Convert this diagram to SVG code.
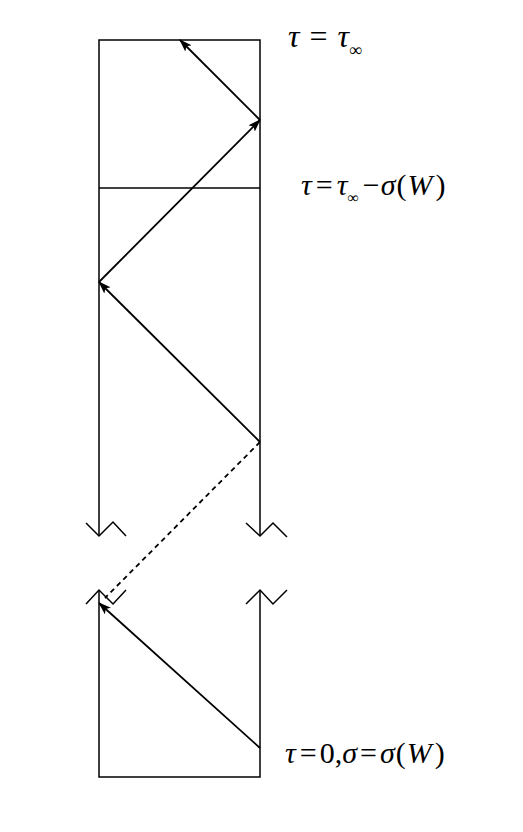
<svg xmlns="http://www.w3.org/2000/svg" width="523" height="832" viewBox="0 0 523 832">
<defs>
<marker id="ah" viewBox="0 0 13 9" refX="12" refY="4.5" markerWidth="13" markerHeight="9" markerUnits="userSpaceOnUse" orient="auto">
<path d="M0,0 L13,4.5 L0,9 L3,4.5 Z" fill="#000"/>
</marker>
<style>
.ln{stroke:#000;stroke-width:1.5;fill:none}
.ar{stroke:#000;stroke-width:1.8;fill:none;marker-end:url(#ah)}
.ds{stroke:#000;stroke-width:1.8;fill:none;stroke-dasharray:5,4}
.t{font-family:"Liberation Serif","Times New Roman",serif;font-size:30px;fill:#000}
.tt{font-size:32px}
.i{font-style:italic}
.sb{font-size:16px}
.sbt{font-size:18px}
</style>
</defs>
<rect width="523" height="832" fill="#fff"/>
<g id="frame">
<path class="ln" d="M99,536 L99,40 L260,40 L260,536"/>
<path class="ln" d="M99,188 L260,188"/>
<path class="ln" d="M86,523 L99,536 L113,522 L126,536"/>
<path class="ln" d="M246,523 L260,536 L273,523 L287,537"/>
<path class="ln" d="M86,604 L99,590 L113,604 L126,590"/>
<path class="ln" d="M246,604 L260,590 L273,604 L287,590"/>
<path class="ln" d="M99,590 L99,777 L260,777 L260,590"/>
</g>
<g id="connectors">
<line class="ar" x1="260" y1="748" x2="99" y2="603"/>
<line class="ds" x1="260" y1="442" x2="105" y2="598"/>
<line class="ar" x1="260" y1="442" x2="99" y2="282"/>
<line class="ar" x1="99" y1="282" x2="260" y2="120"/>
<line class="ar" x1="260" y1="120" x2="180" y2="40"/>
</g>
<g id="label-top">
<text class="t tt" x="288" y="47"><tspan class="i">τ</tspan><tspan dx="10">=</tspan><tspan class="i" dx="10">τ</tspan><tspan class="sbt" dy="9">∞</tspan></text>
</g>
<g id="label-mid">
<text class="t" x="301" y="195"><tspan class="i">τ</tspan><tspan dx="4">=</tspan><tspan class="i" dx="4">τ</tspan><tspan class="sb" dy="8">∞</tspan><tspan dx="4" dy="-8">−</tspan><tspan class="i" dx="1">σ</tspan><tspan dx="1">(</tspan><tspan class="i" dx="1">W</tspan><tspan dx="3">)</tspan></text>
</g>
<g id="label-bottom">
<text class="t" x="285" y="763"><tspan class="i">τ</tspan><tspan dx="4">=</tspan><tspan dx="3">0,</tspan><tspan class="i">σ</tspan><tspan dx="3">=</tspan><tspan class="i" dx="3">σ</tspan><tspan dx="1">(</tspan><tspan class="i" dx="1">W</tspan><tspan dx="3">)</tspan></text>
</g>
</svg>
